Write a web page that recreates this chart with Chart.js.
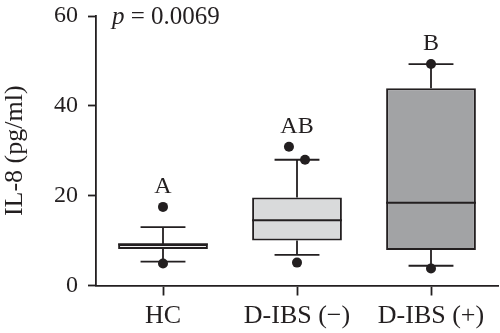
<!DOCTYPE html>
<html>
<head>
<meta charset="utf-8">
<script src="https://cdn.jsdelivr.net/npm/chart.js@4"></script>
<style>
  html, body { margin: 0; padding: 0; background: #fff; }
  #wrap { width: 500px; height: 333px; }
</style>
</head>
<body>
<div id="wrap"><canvas id="chart_il8"></canvas></div>
<script>
// IL-8 box plot data
const categories = ['HC', 'D-IBS (\u2212)', 'D-IBS (+)'];
const q1 = [8.1, 10.0, 7.9];
const q3 = [9.2, 19.6, 43.9];
const median = [9.2, 14.5, 18.4];
const whiskerLow = [5.3, 6.8, 4.4];
const whiskerHigh = [13.0, 28.0, 49.3];
const outlierX = [0, 0, 0.94, 1.06, 1, 2, 2];
const outlierY = [17.5, 4.9, 30.9, 28.0, 5.1, 49.3, 3.8];
const letters = ['A', 'AB', 'B'];
const yTicks = [0, 20, 40, 60];
const pText = '0.0069';

const ink = '#231f20';
const serif = '"Liberation Serif", "DejaVu Serif", serif';

const boxExtras = {
  id: 'boxExtras',
  beforeDatasetsDraw(chart) {
    const ctx = chart.ctx, x = chart.scales.x, y = chart.scales.y;
    const bars = chart.getDatasetMeta(0).data;
    ctx.save();
    ctx.strokeStyle = ink;
    ctx.lineWidth = 1.8;
    categories.forEach((c, i) => {
      const cx = x.getPixelForValue(i);
      const half = bars[i].width / 4;
      ctx.beginPath();
      ctx.moveTo(cx, y.getPixelForValue(q3[i]));
      ctx.lineTo(cx, y.getPixelForValue(whiskerHigh[i]));
      ctx.moveTo(cx - half, y.getPixelForValue(whiskerHigh[i]));
      ctx.lineTo(cx + half, y.getPixelForValue(whiskerHigh[i]));
      ctx.moveTo(cx, y.getPixelForValue(q1[i]));
      ctx.lineTo(cx, y.getPixelForValue(whiskerLow[i]));
      ctx.moveTo(cx - half, y.getPixelForValue(whiskerLow[i]));
      ctx.lineTo(cx + half, y.getPixelForValue(whiskerLow[i]));
      ctx.stroke();
    });
    ctx.restore();
  },
  afterDatasetsDraw(chart) {
    const ctx = chart.ctx, x = chart.scales.x, y = chart.scales.y;
    const bars = chart.getDatasetMeta(0).data;
    const area = chart.chartArea;
    ctx.save();
    ctx.strokeStyle = ink;
    ctx.lineWidth = 2;
    categories.forEach((c, i) => {
      const cx = x.getPixelForValue(i);
      const half = bars[i].width / 2;
      const my = y.getPixelForValue(median[i]);
      ctx.beginPath();
      ctx.moveTo(cx - half, my);
      ctx.lineTo(cx + half, my);
      ctx.stroke();
    });
    // outliers
    ctx.fillStyle = ink;
    outlierX.forEach((ox, k) => {
      ctx.beginPath();
      ctx.arc(x.getPixelForValue(ox), y.getPixelForValue(outlierY[k]), 5, 0, Math.PI * 2);
      ctx.fill();
    });
    // group letters above the highest marker
    ctx.font = '24px ' + serif;
    ctx.textAlign = 'center';
    ctx.textBaseline = 'alphabetic';
    letters.forEach((l, i) => {
      let top = whiskerHigh[i];
      outlierX.forEach((ox, k) => {
        if (Math.round(ox) === i && outlierY[k] > top) top = outlierY[k];
      });
      ctx.fillText(l, x.getPixelForValue(i), y.getPixelForValue(top) - 14);
    });
    // p value
    ctx.textAlign = 'left';
    const px = area.left + 16, py = area.top + 8;
    ctx.font = 'italic 25px ' + serif;
    ctx.fillText('p', px, py);
    const w = ctx.measureText('p').width;
    ctx.font = '25px ' + serif;
    ctx.fillText(' = ' + pText, px + w, py);
    ctx.restore();
  }
};

const ctx_il8 = document.getElementById('chart_il8').getContext('2d');
const il8 = new Chart(ctx_il8, {
  type: 'bar',
  data: {
    labels: categories,
    datasets: [{
      data: q1.map((v, i) => [v, q3[i]]),
      backgroundColor: ['#ffffff', '#d9dadb', '#a2a3a5'],
      borderColor: ink,
      borderWidth: 2,
      borderSkipped: false,
      barPercentage: 0.67,
      categoryPercentage: 1
    }]
  },
  options: {
    responsive: true,
    maintainAspectRatio: false,
    animation: false,
    layout: { padding: { top: 16, right: 2, left: 0, bottom: 0 } },
    plugins: {
      legend: { display: false },
      tooltip: { enabled: false }
    },
    scales: {
      x: {
        type: 'category',
        offset: true,
        afterFit(scale) { scale.height = 47.5; },
        grid: {
          offset: false,
          drawOnChartArea: false,
          tickLength: 10,
          tickColor: ink,
          tickWidth: 1.8
        },
        border: { color: ink, width: 1.8 },
        ticks: {
          color: ink,
          padding: 5,
          font: { family: serif, size: 26 }
        }
      },
      y: {
        min: 0,
        max: 60,
        afterFit(scale) {
          scale.width = 96;
          scale.paddingTop = 0;
          scale.paddingBottom = 0;
        },
        afterBuildTicks(scale) { scale.ticks = yTicks.map(v => ({ value: v })); },
        grid: {
          drawOnChartArea: false,
          tickLength: 8,
          tickColor: ink,
          tickWidth: 1.8
        },
        border: { color: ink, width: 1.8 },
        ticks: {
          color: ink,
          padding: 10,
          font: { family: serif, size: 24 }
        },
        title: {
          display: true,
          text: 'IL-8 (pg/ml)',
          color: ink,
          padding: 0,
          font: { family: serif, size: 26 }
        }
      }
    }
  },
  plugins: [boxExtras]
});
</script>
</body>
</html>
